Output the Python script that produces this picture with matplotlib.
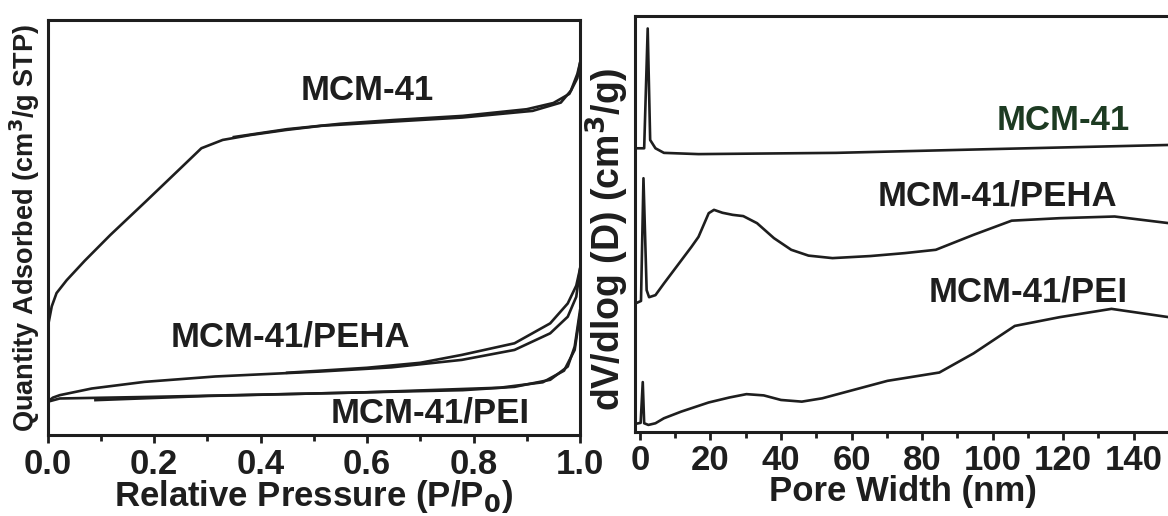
import matplotlib
matplotlib.use("Agg")
import matplotlib.pyplot as plt
from matplotlib.ticker import MultipleLocator

plt.rcParams['font.family'] = ['Liberation Sans', 'DejaVu Sans']
plt.rcParams['font.weight'] = 'bold'

INK = '#1e1e1e'

# ---------------- Left panel: N2 isotherms (relative units) ----------------
p_mcm_ads = [0.0, 0.002, 0.008, 0.017, 0.036, 0.07, 0.118, 0.184, 0.25, 0.289, 0.329,
             0.382, 0.448, 0.514, 0.646, 0.779, 0.911, 0.964, 0.983, 0.995, 1.0]
q_mcm_ads = [0.20, 0.27, 0.31, 0.342, 0.373, 0.42, 0.482, 0.562, 0.643, 0.691, 0.711,
             0.723, 0.735, 0.745, 0.755, 0.765, 0.781, 0.801, 0.83, 0.87, 0.896]
p_mcm_des = [0.35, 0.45, 0.55, 0.65, 0.78, 0.90, 0.95, 0.98, 0.995, 1.0]
q_mcm_des = [0.718, 0.737, 0.750, 0.759, 0.769, 0.785, 0.800, 0.822, 0.86, 0.896]

p_peha_ads = [0.0, 0.01, 0.023, 0.083, 0.182, 0.315, 0.513, 0.646, 0.778, 0.877,
              0.944, 0.977, 0.993, 1.0]
q_peha_ads = [0.080, 0.09, 0.096, 0.112, 0.128, 0.141, 0.153, 0.163, 0.181, 0.205,
              0.245, 0.285, 0.333, 0.40]
p_peha_des = [0.45, 0.6, 0.7, 0.778, 0.877, 0.944, 0.977, 0.993, 1.0]
q_peha_des = [0.150, 0.162, 0.174, 0.193, 0.221, 0.269, 0.317, 0.36, 0.40]

p_pei_ads = [0.0, 0.023, 0.2, 0.5, 0.78, 0.877, 0.944, 0.977, 0.99, 1.0]
q_pei_ads = [0.080, 0.088, 0.092, 0.100, 0.108, 0.116, 0.133, 0.165, 0.213, 0.30]
p_pei_des = [0.09, 0.3, 0.6, 0.85, 0.93, 0.97, 0.99, 1.0]
q_pei_des = [0.084, 0.094, 0.103, 0.114, 0.127, 0.155, 0.205, 0.29]

# ---------------- Right panel: pore size distributions ----------------
w_mcm = [-1.0, 1.2, 2.2, 2.9, 4.4, 6.8, 16.6, 55.6, 94.6, 150.0]
v_mcm = [0.682, 0.682, 0.970, 0.702, 0.682, 0.671, 0.668, 0.671, 0.679, 0.690]

w_peha = [-1.0, 0.3, 1.0, 1.9, 2.6, 4.4, 6.8, 10.7, 14.6, 16.6, 19.5, 21.0, 23.4, 26.3,
          29.3, 33.2, 38.0, 42.9, 47.8, 54.6, 65.4, 75.1, 83.9, 94.6, 105.4, 119.0,
          134.6, 150.0]
v_peha = [0.310, 0.315, 0.610, 0.341, 0.324, 0.329, 0.357, 0.401, 0.445, 0.469, 0.526,
          0.534, 0.527, 0.522, 0.519, 0.502, 0.466, 0.438, 0.424, 0.418, 0.423, 0.430,
          0.438, 0.474, 0.508, 0.514, 0.518, 0.502]

w_pei = [-1.0, 0.2, 0.8, 1.2, 2.4, 4.4, 6.8, 11.7, 19.5, 25.4, 30.2, 35.1, 40.0, 45.9,
         51.7, 60.5, 70.2, 84.9, 94.6, 106.3, 119.0, 133.7, 150.0]
v_pei = [0.020, 0.022, 0.120, 0.021, 0.017, 0.021, 0.033, 0.049, 0.071, 0.083, 0.091,
         0.088, 0.077, 0.073, 0.081, 0.101, 0.123, 0.143, 0.189, 0.255, 0.276, 0.296,
         0.276]

left_ticks = [0.0, 0.2, 0.4, 0.6, 0.8, 1.0]
left_ticklabels = ['0.0', '0.2', '0.4', '0.6', '0.8', '1.0']
right_ticks = [0, 20, 40, 60, 80, 100, 120, 140]
right_ticklabels = ['0', '20', '40', '60', '80', '100', '120', '140']

W, H = 1168, 516
fig = plt.figure(figsize=(W / 100, H / 100), dpi=100)
fig.patch.set_facecolor('white')

axL = fig.add_axes([47.5 / W, (H - 435) / H, 532.5 / W, 415 / H])
axR = fig.add_axes([635 / W, (H - 432) / H, 535 / W, 416 / H])

lw = 1.9
for ax in (axL, axR):
    for s in ax.spines.values():
        s.set_linewidth(2.2)
        s.set_color(INK)
    ax.tick_params(axis='x', which='major', direction='out', length=6, width=2,
                   colors=INK, labelsize=25, pad=3)
    ax.tick_params(axis='x', which='minor', direction='out', length=4, width=2, colors=INK)
    ax.tick_params(axis='y', left=False, labelleft=False)
    ax.set_yticks([])

# Left
axL.plot(p_mcm_ads, q_mcm_ads, color=INK, lw=lw)
axL.plot(p_mcm_des, q_mcm_des, color=INK, lw=lw)
axL.plot(p_peha_ads, q_peha_ads, color=INK, lw=lw)
axL.plot(p_peha_des, q_peha_des, color=INK, lw=lw)
axL.plot(p_pei_ads, q_pei_ads, color=INK, lw=lw)
axL.plot(p_pei_des, q_pei_des, color=INK, lw=lw)
axL.set_xlim(0, 1.0)
axL.set_ylim(0, 1.0)
axL.set_xticks(left_ticks)
axL.set_xticklabels(left_ticklabels)
axL.xaxis.set_minor_locator(MultipleLocator(0.1))
for lab in axL.get_xticklabels():
    lab.set_fontweight('bold')
axL.set_xlabel('Relative Pressure (P/P$_\\mathbf{0}$)', fontsize=25, fontweight='bold',
               color=INK, labelpad=-2)
axL.set_ylabel('Quantity Adsorbed (cm$^\\mathbf{3}$/g STP)', fontsize=19.5, fontweight='bold',
               color=INK, labelpad=4)
axL.text(0.60, 0.830, 'MCM-41', fontsize=25, fontweight='bold', color=INK,
         ha='center', va='center')
axL.text(0.457, 0.236, 'MCM-41/PEHA', fontsize=25, fontweight='bold', color=INK,
         ha='center', va='center')
axL.text(0.718, 0.052, 'MCM-41/PEI', fontsize=25, fontweight='bold', color=INK,
         ha='center', va='center')

# Right
axR.plot(w_mcm, v_mcm, color=INK, lw=lw)
axR.plot(w_peha, v_peha, color=INK, lw=lw)
axR.plot(w_pei, v_pei, color=INK, lw=lw)
axR.set_xlim(-1.4, 150.3)
axR.set_ylim(0, 1.0)
axR.spines['right'].set_visible(False)
axR.set_xticks(right_ticks)
axR.set_xticklabels(right_ticklabels)
axR.xaxis.set_minor_locator(MultipleLocator(10))
for lab in axR.get_xticklabels():
    lab.set_fontweight('bold')
axR.set_xlabel('Pore Width (nm)', fontsize=25, fontweight='bold', color=INK, labelpad=-2)
axR.set_ylabel('dV/dlog (D) (cm$^\\mathbf{3}$/g)', fontsize=27, fontweight='bold',
               color=INK)
axR.yaxis.set_label_coords(-0.008, 0.462)
axR.text(120, 0.75, 'MCM-41', fontsize=25, fontweight='bold', color='#1d3b22',
         ha='center', va='center')
axR.text(101.5, 0.568, 'MCM-41/PEHA', fontsize=25, fontweight='bold', color=INK,
         ha='center', va='center')
axR.text(110, 0.336, 'MCM-41/PEI', fontsize=25, fontweight='bold', color=INK,
         ha='center', va='center')

fig.savefig('out.png', dpi=100, facecolor='white')
